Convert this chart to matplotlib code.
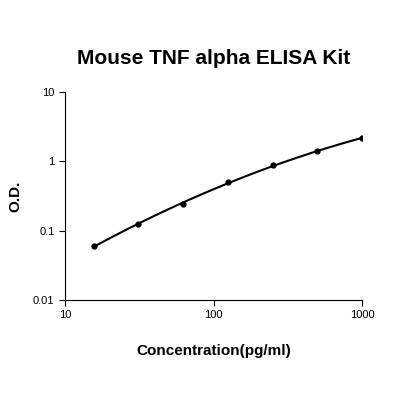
import matplotlib
matplotlib.use("Agg")
import matplotlib.pyplot as plt
import numpy as np

plt.rcParams['font.family'] = ['Liberation Sans', 'DejaVu Sans']

conc = [15.6, 31.25, 62.5, 125, 250, 500, 1000]
od = [0.06, 0.125, 0.24, 0.5, 0.88, 1.4, 2.15]

fig = plt.figure(figsize=(4, 4), dpi=100)
ax = fig.add_axes([0.1625, 0.25, 0.7425, 0.52])

# smooth trend line through the points (quadratic in log-log space)
lx, ly = np.log10(conc), np.log10(od)
coef = np.polyfit(lx, ly, 2)
xs = np.linspace(lx[0], lx[-1], 200)
ax.plot(10 ** xs, 10 ** np.polyval(coef, xs), color='black', lw=1.5)
ax.plot(conc, od, 'o', color='black', ms=3.5)

ax.set_xscale('log')
ax.set_yscale('log')
ax.set_xlim(10, 1000)
ax.set_ylim(0.01, 10)
ax.set_xticks([10, 100, 1000])
ax.set_xticklabels(['10', '100', '1000'])
ax.set_yticks([0.01, 0.1, 1, 10])
ax.set_yticklabels(['0.01', '0.1', '1', '10'])
ax.minorticks_off()
ax.tick_params(labelsize=8, direction='out', length=4)
for s in ['top', 'right']:
    ax.spines[s].set_visible(False)

ax.set_title('Mouse TNF alpha ELISA Kit', fontsize=15, fontweight='bold', pad=20)
ax.set_xlabel('Concentration(pg/ml)', fontsize=11, fontweight='bold', labelpad=17)
ax.set_ylabel('O.D.', fontsize=11, fontweight='bold', labelpad=8)

fig.savefig('out.png', dpi=100)
